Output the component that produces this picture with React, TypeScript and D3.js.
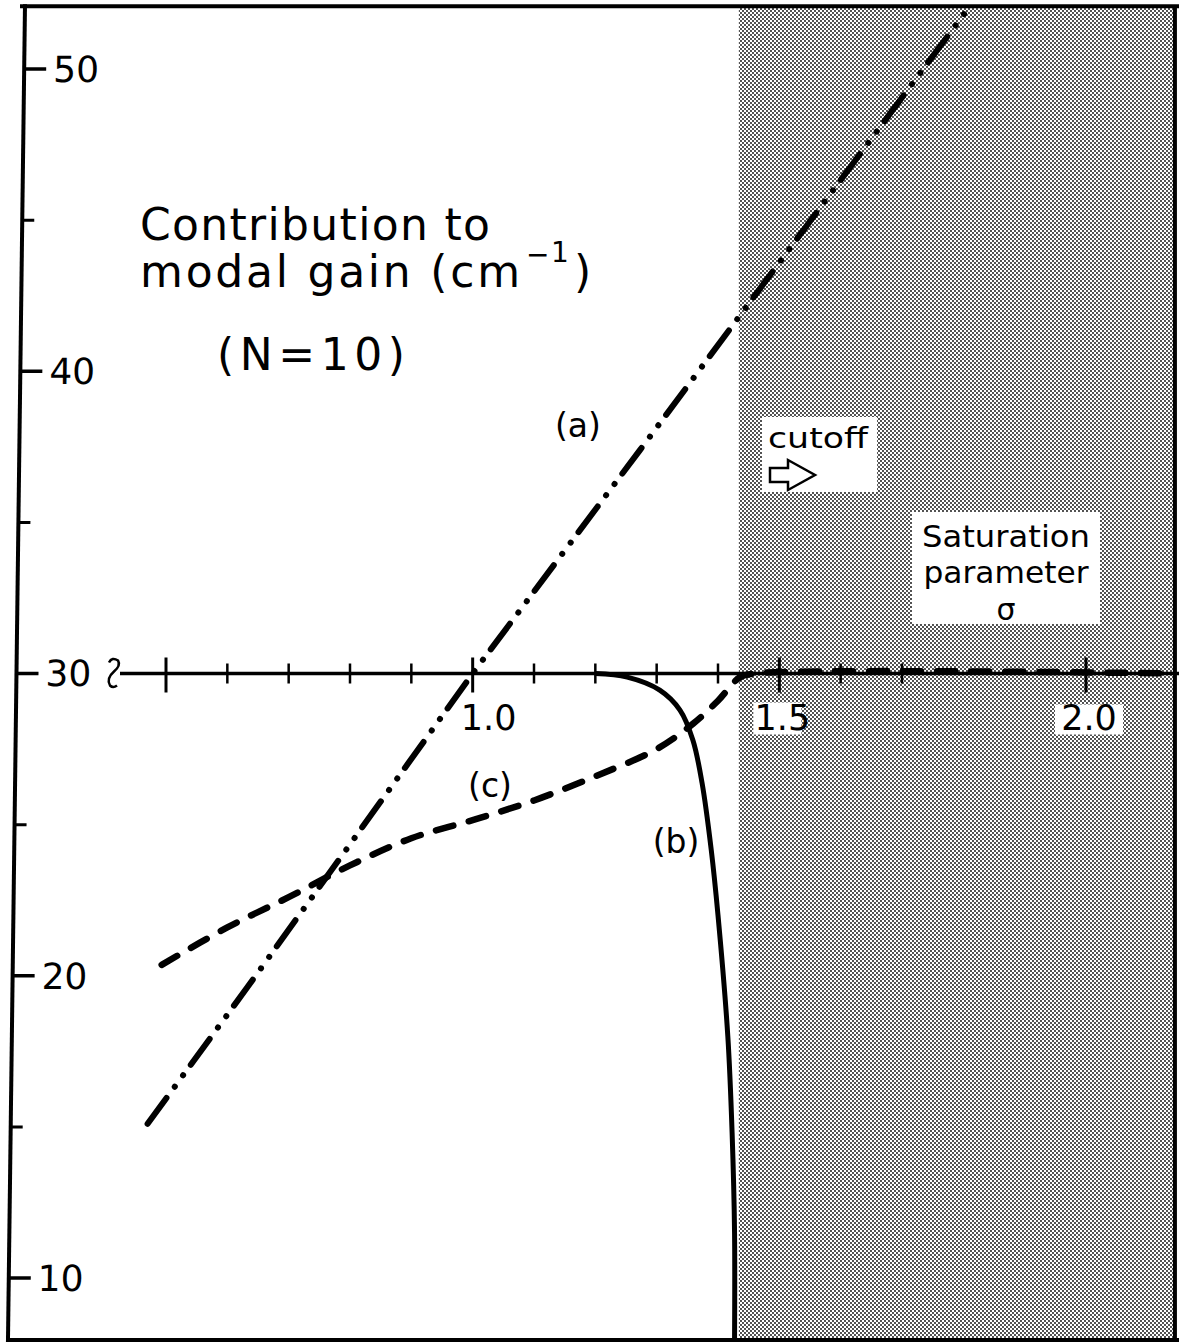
import React from 'react';
import * as d3 from 'd3';

// ---- data ----
const yMajorTicks = [10, 20, 30, 40, 50];
const yMinorTicks = [15, 25, 35, 45];
const xMajorTicks = [0.5, 1.0, 1.5, 2.0];
const xMinorTicks = [0.6, 0.7, 0.8, 0.9, 1.1, 1.2, 1.3, 1.4, 1.6, 1.7];
const xTickLabels = [
  { v: 1.0, text: '1.0' },
  { v: 1.5, text: '1.5' },
  { v: 2.0, text: '2.0' },
];
// (a) dash-dot-dot
const curveA: [number, number][] = [
  [0.47, 15.1], [0.632, 19.6], [1.0, 30], [1.273, 37.4], [1.806, 51.95],
];
// (b) solid
const curveB: [number, number][] = [
  [1.2, 30], [1.252, 29.88], [1.305, 29.45], [1.338, 28.79], [1.359, 27.8],
  [1.374, 26.38], [1.389, 24.16], [1.4, 22.0], [1.416, 18.0], [1.423, 14.8],
  [1.427, 11.5], [1.427, 7.95],
];
// (c) dashed
const curveC: [number, number][] = [
  [0.493, 20.36], [0.6, 21.6], [0.7, 22.6], [0.8, 23.65], [0.9, 24.55],
  [1.0, 25.15], [1.1, 25.8], [1.2, 26.6], [1.3, 27.5], [1.36, 28.35],
  [1.4, 29.1], [1.436, 29.88], [1.46, 30], [2.145, 30],
];
const cutoffSigma = 1.434;
const sigmaMax = 2.145;
const gainTop = 52.08;
const gainBottom = 7.95;
const axisGain = 30;

const FONT = '"DejaVu Sans", "Noto Sans", sans-serif';

export default function App() {
  const x = d3.scaleLinear().domain([0.5, 2.0]).range([166, 1086]);
  const y = d3.scaleLinear().domain([10, 50]).range([1278, 69]);

  const lineLin = d3.line<[number, number]>().x(d => x(d[0])).y(d => y(d[1]));
  const lineSmooth = d3
    .line<[number, number]>()
    .x(d => x(d[0]))
    .y(d => y(d[1]))
    .curve(d3.curveCatmullRom.alpha(0.5));

  const yAx = y(axisGain);
  const left = 8;
  const right = x(sigmaMax);
  const top = y(gainTop);
  const bottom = y(gainBottom);

  return (
    <svg
      width={1179}
      height={1343}
      style={{ position: 'absolute', left: 0, top: 0, background: '#fff' }}
      fontFamily={FONT}
    >
      <defs>
        <pattern id="stipple" width="4" height="4" patternUnits="userSpaceOnUse">
          <rect width="4" height="4" fill="#fff" />
          <circle cx="1" cy="1" r="0.9" fill="#000" />
          <circle cx="3" cy="3" r="0.9" fill="#000" />
        </pattern>
        <clipPath id="plotClip">
          <rect x={left} y={top} width={right - left} height={bottom - top} />
        </clipPath>
      </defs>

      {/* shaded cutoff region */}
      <rect
        x={x(cutoffSigma)}
        y={top}
        width={right - x(cutoffSigma)}
        height={bottom - top}
        fill="url(#stipple)"
      />
      {/* white label boxes */}
      <rect x={762} y={417} width={115} height={75} fill="#fff" />
      <rect x={912} y={512} width={188} height={112} fill="#fff" />
      <rect x={x(1.5) - 26} y={yAx + 29} width={48} height={32} fill="#fff" />
      <rect x={x(2.0) - 31} y={yAx + 31} width={68} height={30} fill="#fff" />

      {/* frame: top, right, bottom */}
      <line x1={20} x2={1179} y1={top} y2={top} stroke="#000" strokeWidth={4} />
      <line x1={right} x2={right} y1={top} y2={bottom} stroke="#000" strokeWidth={4} />
      <line x1={6} x2={1179} y1={bottom} y2={bottom} stroke="#000" strokeWidth={4} />

      {/* y axis (slightly slanted as in the scan) */}
      <g transform="translate(25.06,0) skewX(-0.73)">
        <line x1={0} x2={0} y1={top - 2} y2={bottom + 2} stroke="#000" strokeWidth={4} />
        {yMajorTicks.map(v => (
          <g key={v}>
            <line x1={0} x2={22} y1={y(v)} y2={y(v)} stroke="#000" strokeWidth={3.5} />
            <text x={29} y={y(v)} dy="0.36em" fontSize={36} fill="#000">
              {v}
            </text>
          </g>
        ))}
        {yMinorTicks.map(v => (
          <line key={v} x1={0} x2={12} y1={y(v)} y2={y(v)} stroke="#000" strokeWidth={3} />
        ))}
      </g>

      {/* x axis along gain = 30 */}
      <path
        d={`M109,${yAx - 11} Q112,${yAx - 17} 118,${yAx - 13} Q121,${yAx - 8} 114,${yAx - 2} Q106,${yAx + 5} 110,${yAx + 12} Q113,${yAx + 15} 117,${yAx + 12}`}
        fill="none"
        stroke="#000"
        strokeWidth={2.5}
      />
      <line x1={120} x2={1179} y1={yAx} y2={yAx} stroke="#000" strokeWidth={3.5} />
      {xMajorTicks.map(v => (
        <line key={v} x1={x(v)} x2={x(v)} y1={yAx - 16} y2={yAx + 19} stroke="#000" strokeWidth={3} />
      ))}
      {xMinorTicks.map(v => (
        <line key={v} x1={x(v)} x2={x(v)} y1={yAx - 10} y2={yAx + 10} stroke="#000" strokeWidth={2.5} />
      ))}
      {xTickLabels.map(t => (
        <text
          key={t.text}
          x={x(t.v) + (t.v === 1.0 ? 16 : 3)}
          y={yAx + 56}
          fontSize={35}
          textAnchor="middle"
          fill="#000"
        >
          {t.text}
        </text>
      ))}

      {/* curves */}
      <g clipPath="url(#plotClip)" fill="none" stroke="#000">
        <path
          d={lineLin(curveA) || ''}
          strokeWidth={6}
          strokeLinecap="round"
          strokeDasharray="32 14 0.1 14 0.1 13"
        />
        <path d={lineSmooth(curveB) || ''} strokeWidth={5} />
        <path
          d={lineSmooth(curveC) || ''}
          strokeWidth={6.5}
          strokeLinecap="round"
          strokeDasharray="18 16"
        />
      </g>

      {/* curve labels */}
      <text x={578} y={437} fontSize={33} textAnchor="middle">(a)</text>
      <text x={676} y={853} fontSize={33} textAnchor="middle">(b)</text>
      <text x={490} y={797} fontSize={33} textAnchor="middle">(c)</text>

      {/* title */}
      <text x={140} y={240} fontSize={44} textLength={350} lengthAdjust="spacing">
        Contribution to
      </text>
      <text x={140} y={287} fontSize={44} textLength={380} lengthAdjust="spacing">
        modal gain (cm
      </text>
      <text x={526} y={264} fontSize={28}>−</text>
      <text x={551} y={262} fontSize={28}>1</text>
      <text x={574} y={287} fontSize={44}>)</text>
      <text x={217} y={370} fontSize={44} textLength={188} lengthAdjust="spacing">
        (N=10)
      </text>

      {/* cutoff note */}
      <text x={768} y={448} fontSize={29} textLength={100} lengthAdjust="spacingAndGlyphs">
        cutoff
      </text>
      <path
        d="M770,468 L788,468 L788,460 L815,475 L788,490 L788,482 L770,482 Z"
        fill="#fff"
        stroke="#000"
        strokeWidth={2.5}
        strokeLinejoin="miter"
      />

      {/* axis title */}
      <text x={1006} y={547} fontSize={30} textAnchor="middle" textLength={168} lengthAdjust="spacingAndGlyphs">
        Saturation
      </text>
      <text x={1006} y={583} fontSize={30} textAnchor="middle" textLength={165} lengthAdjust="spacingAndGlyphs">
        parameter
      </text>
      <text x={1006} y={620} fontSize={30} textAnchor="middle">σ</text>
    </svg>
  );
}
